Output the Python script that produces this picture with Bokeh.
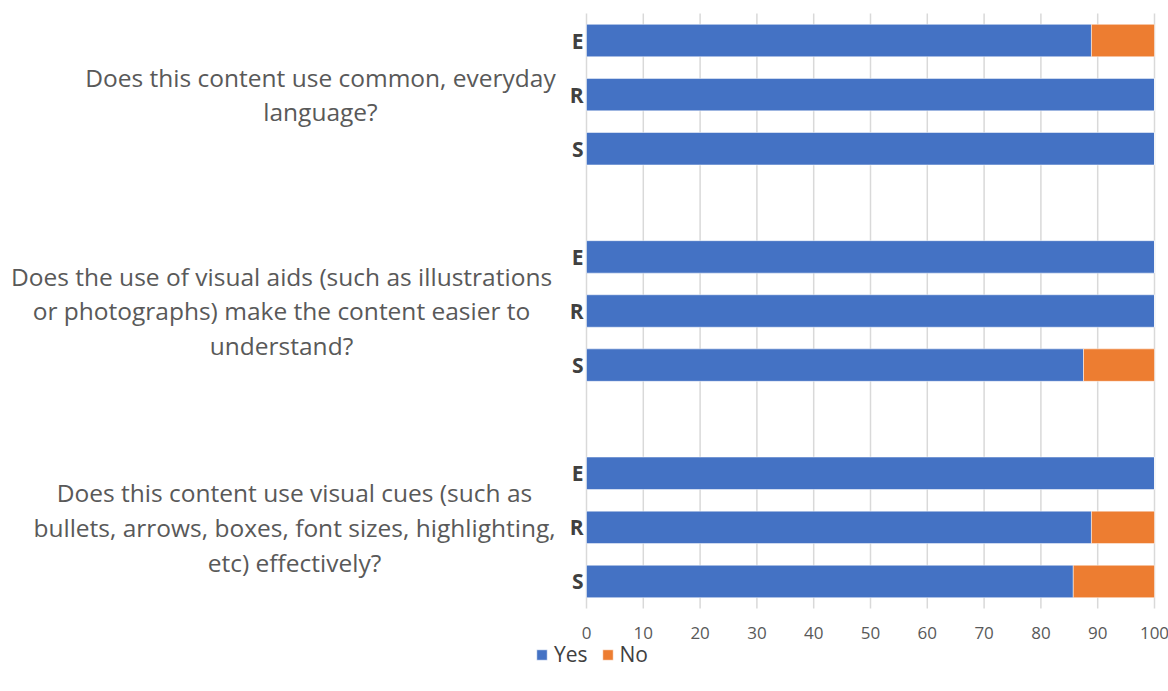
from bokeh.plotting import figure
from bokeh.models import ColumnDataSource, Range1d, Legend, LegendItem
from bokeh.core.properties import value
from bokeh.embed import file_html
from bokeh.resources import INLINE

# ---- data ----
questions = [
    "Does this content use common, everyday\nlanguage?",
    "Does the use of visual aids (such as illustrations\nor photographs) make the content easier to\nunderstand?",
    "Does this content use visual cues (such as\nbullets, arrows, boxes, font sizes, highlighting,\netc) effectively?",
]
groups = ["E", "R", "S"]
yes_q1 = [88.9, 100, 100]
yes_q2 = [100, 100, 87.5]
yes_q3 = [100, 88.9, 85.7]
x_ticks = [0, 10, 20, 30, 40, 50, 60, 70, 80, 90, 100]
x_tick_labels = [str(t) for t in x_ticks]

yes_all = [yes_q1, yes_q2, yes_q3]

# ---- layout helpers (canvas pixels -> data units) ----
W, H = 1168, 688
ZERO_X, HUNDRED_X = 586, 1154          # canvas x of 0 and 100
TOP_Y, BOTTOM_Y = 13, 608              # canvas y of the plot band (-0.5 .. 10.5)
sx = (HUNDRED_X - ZERO_X) / 100.0
sy = (BOTTOM_Y - TOP_Y) / 11.0


def px(cx):
    return (cx - ZERO_X) / sx


def py(cy):
    return -0.5 + (cy - TOP_Y) / sy


ys, yes_vals, no_vals, cat_labels = [], [], [], []
for gi, vals in enumerate(yes_all):
    for ci, v in enumerate(vals):
        ys.append(gi * 4 + ci)
        yes_vals.append(v)
        no_vals.append(100 - v)
        cat_labels.append(groups[ci])

src = ColumnDataSource(dict(y=ys, Yes=yes_vals, No=no_vals, lab=cat_labels))

p = figure(
    width=W, height=H,
    x_range=Range1d(px(0), px(W)), y_range=Range1d(py(H), py(0)),
    output_backend="svg", toolbar_location=None,
    x_axis_location=None, y_axis_location=None,
    min_border=0,
)
p.outline_line_color = None
p.background_fill_color = "white"
p.xgrid.grid_line_color = None
p.ygrid.grid_line_color = None

# vertical grid lines at the tick values
p.segment(x0=x_ticks, y0=[-0.5] * len(x_ticks), x1=x_ticks, y1=[10.5] * len(x_ticks),
          line_color="#d9d9d9", line_width=1.5)

renderers = p.hbar_stack(
    ["Yes", "No"], y="y", height=0.6, source=src,
    color=["#4472C4", "#ED7D31"], line_color="white", line_width=0.5,
)

# x tick labels
p.text(x=x_ticks, y=[py(632)] * len(x_ticks), text=x_tick_labels,
       text_align="center", text_baseline="middle",
       text_font=value("Open Sans"), text_font_size="17px", text_color="#595959")

# category labels E / R / S
p.text(x=px(583), y="y", text="lab", source=src,
       text_align="right", text_baseline="middle",
       text_font=value("Open Sans"), text_font_style="bold",
       text_font_size="21px", text_color="#404040")

# question labels
q_y = [1, 5, 9]
q_x = [px(320), px(281), px(294)]
p.text(x=q_x, y=q_y, text=questions,
       text_align="center", text_baseline="middle",
       text_font=value("Open Sans"), text_font_size="24.5px",
       text_line_height=1.05, text_color="#595959")

legend = Legend(items=[LegendItem(label="Yes", renderers=[renderers[0]]),
                       LegendItem(label="No", renderers=[renderers[1]])],
                orientation="horizontal", location=(535, 20))
legend.border_line_color = None
legend.background_fill_alpha = 0
legend.padding = 2
legend.margin = 0
legend.spacing = 13
legend.label_standoff = 6
legend.glyph_width = 13
legend.glyph_height = 13
legend.label_height = 22
legend.label_text_font = "Open Sans"
legend.label_text_font_size = "21px"
legend.label_text_color = "#404040"
p.add_layout(legend, "center")

open("out.html", "w").write(file_html(p, INLINE))
